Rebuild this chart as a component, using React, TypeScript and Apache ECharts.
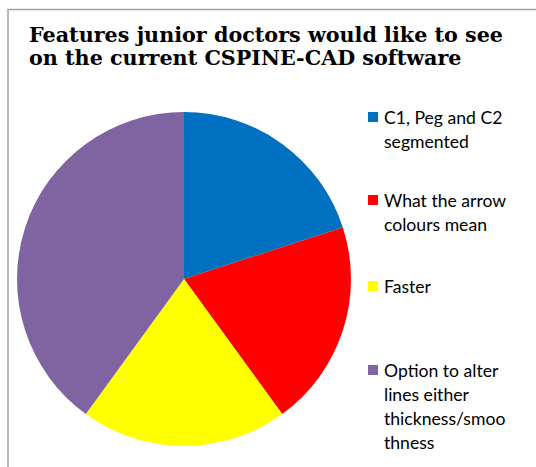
import React, { useEffect, useRef } from "react";
import * as echarts from "echarts";

const titleText = "Features junior doctors would like to see\non the current CSPINE-CAD software";
const categories = [
  "C1, Peg and C2 segmented",
  "What the arrow colours mean",
  "Faster",
  "Option to alter lines either thickness/smoothness",
];
const legendLabels = [
  "C1, Peg and C2\nsegmented",
  "What the arrow\ncolours mean",
  "Faster",
  "Option to alter\nlines either\nthickness/smoo\nthness",
];
const values = [1, 1, 1, 2];
const colors = ["#0070C0", "#FF0000", "#FFFF00", "#8064A2"];

export default function App() {
  const ref = useRef<HTMLDivElement>(null);
  useEffect(() => {
    if (!ref.current) return;
    const chart = echarts.init(ref.current, null, { renderer: "svg" });
    const lh = 24;
    const iconCenters = [117, 200, 286, 370];
    const legends = categories.map((name, i) => {
      const n = legendLabels[i].split("\n").length;
      const H = (2 * n - 1) * lh;
      return {
        orient: "vertical",
        left: 368,
        top: iconCenters[i] - H / 2,
        padding: 0,
        icon: "rect",
        itemWidth: 10,
        itemHeight: 10,
        selectedMode: false,
        data: [name],
        formatter: (nm: string) => {
          const lbl = legendLabels[categories.indexOf(nm)];
          const k = lbl.split("\n").length;
          return "\n".repeat(k - 1) + lbl;
        },
        textStyle: {
          fontFamily: "Lato",
          fontSize: 17.6,
          lineHeight: lh,
          color: "#000",
          padding: [0, 0, 0, 1],
        },
      };
    });
    chart.setOption({
      animation: false,
      backgroundColor: "#fff",
      color: colors,
      title: {
        text: titleText,
        left: 29,
        top: 23,
        padding: 0,
        textStyle: {
          fontFamily: "DejaVu Serif",
          fontWeight: "bold",
          fontSize: 20.7,
          lineHeight: 23,
          color: "#000",
        },
      },
      legend: legends,
      graphic: [
        {
          type: "rect",
          silent: true,
          z: 100,
          shape: { x: 8, y: 9.5, width: 600, height: 600 },
          style: { fill: "none", stroke: "#A3A3A3", lineWidth: 1.5 },
        },
      ],
      series: [
        {
          type: "pie",
          center: [184, 279],
          radius: 167,
          startAngle: 90,
          clockwise: true,
          label: { show: false },
          labelLine: { show: false },
          emphasis: { disabled: true },
          itemStyle: { borderWidth: 0 },
          data: categories.map((name, i) => ({ name, value: values[i] })),
        },
      ],
    });
    return () => chart.dispose();
  }, []);
  return (
    <div
      ref={ref}
      style={{ position: "fixed", left: 0, top: 0, width: 536, height: 467 }}
    />
  );
}
